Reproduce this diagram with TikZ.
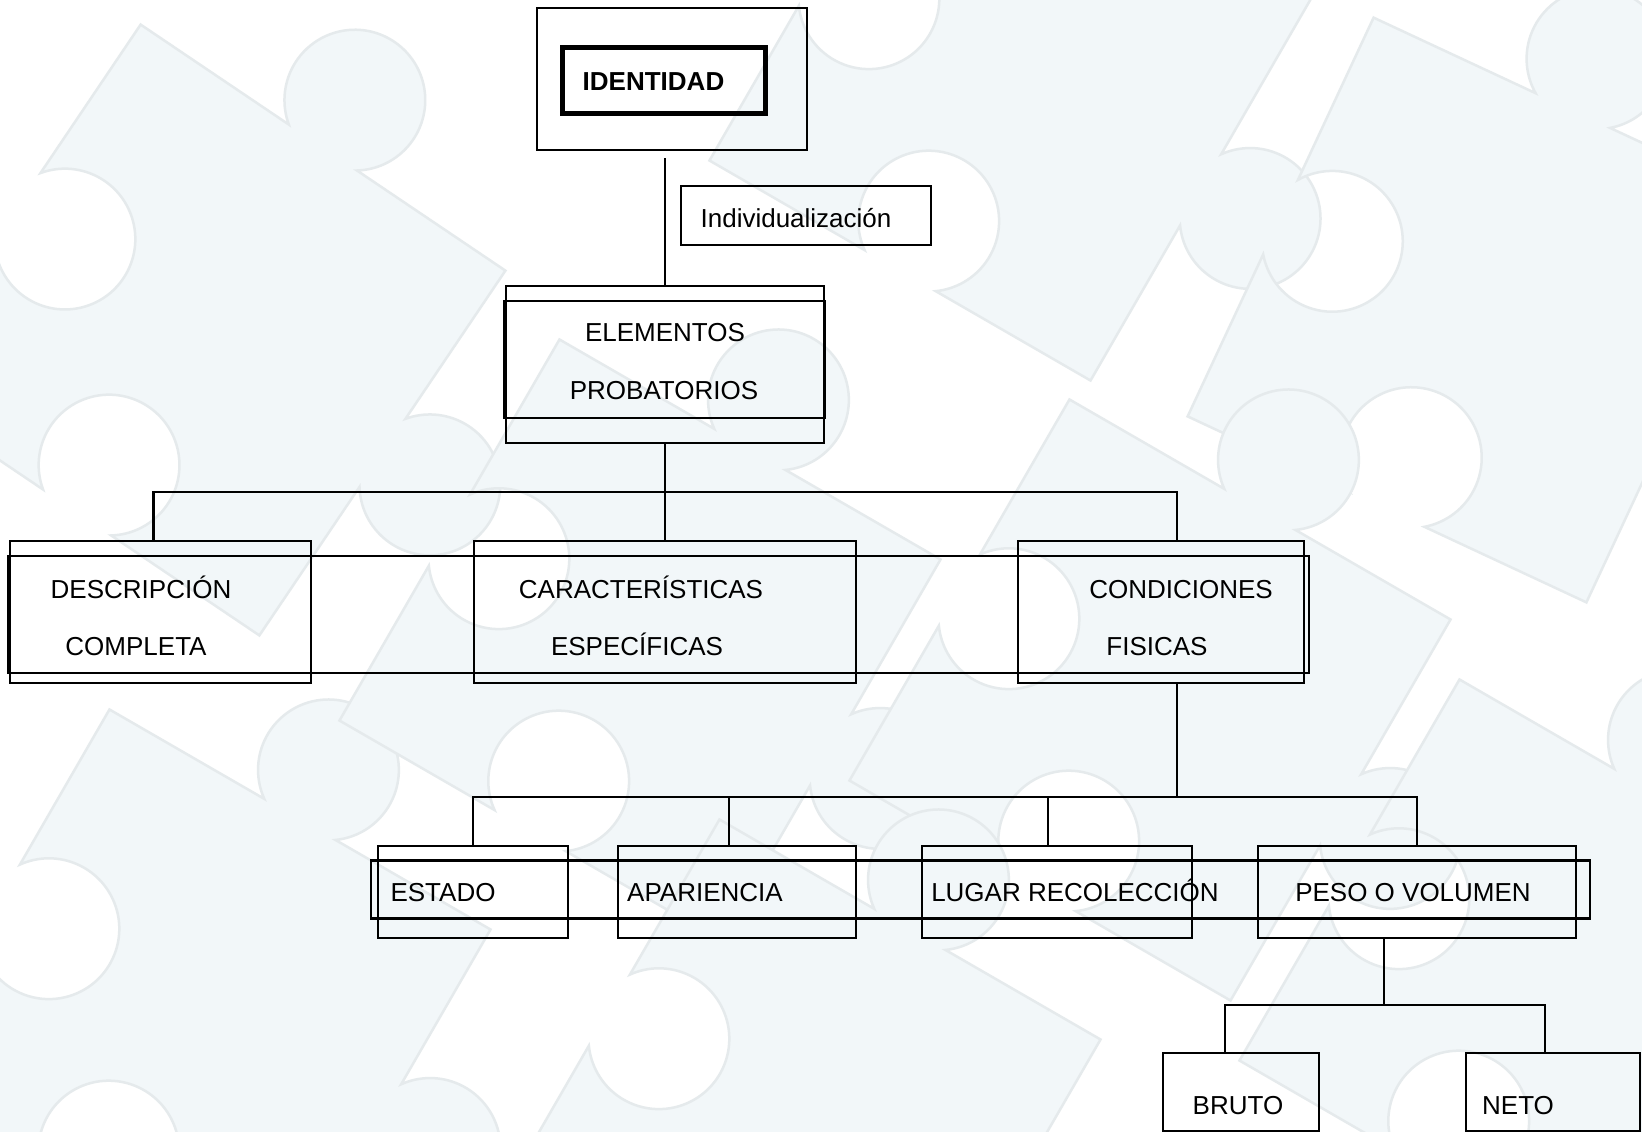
\documentclass[tikz,border=0pt]{standalone}
\usepackage{fontspec}
\setmainfont{Liberation Sans}

\definecolor{piezafondo}{HTML}{F2F7F9}
\definecolor{piezaborde}{HTML}{E5EAEC}

\tikzstyle{caja}=[draw, rectangle, line width=2.6pt, inner sep=0pt]
\tikzstyle{marco}=[draw, rectangle, line width=2.4pt, inner sep=0pt]
\tikzstyle{texto}=[anchor=base, inner sep=0pt, font=\fontsize{26}{30}\selectfont]
\tikzstyle{pieza}=[fill=piezafondo, draw=piezaborde, line width=2.5pt]

% pieza de rompecabezas del fondo: x, y, giro
\newcommand{\pieza}[3]{%
  \begin{scope}[shift={(#1,#2)}, x=440pt, y=440pt, rotate=#3]
    \filldraw[pieza] (-0.5,-0.5) -- (-0.093,-0.5)
      arc[start angle=234.3, end angle=-54.3, radius=0.16] -- (0.5,-0.5)
      -- (0.5,-0.093) arc[start angle=215.7, end angle=504.3, radius=0.16] -- (0.5,0.5)
      -- (0.093,0.5) arc[start angle=-54.3, end angle=234.3, radius=0.16] -- (-0.5,0.5)
      -- (-0.5,0.093) arc[start angle=144.3, end angle=-144.3, radius=0.16] -- cycle;
  \end{scope}}

\begin{document}
\begin{tikzpicture}[x=1pt, y=-1pt]
\useasboundingbox (0,0) rectangle (1642,1132);
\fill[white] (0,0) rectangle (1642,1132);

\begin{scope}
\clip (0,0) rectangle (1642,1132);
\pieza{200}{330}{-34}
\pieza{1010}{80}{-30}
\pieza{1480}{310}{-25}
\pieza{190}{1010}{-30}
\pieza{640}{640}{-30}
\pieza{1150}{700}{-30}
\pieza{800}{1120}{-30}
\pieza{1540}{980}{-30}
\end{scope}

\node[caja, minimum width=270pt, minimum height=142pt] (identidad) at (672,79) {};
\node[caja, line width=5pt, minimum width=203pt, minimum height=65pt] (identidadin) at (663.5,80.5) {};
\node[texto, font=\bfseries\fontsize{26}{30}\selectfont] (tidentidad) at (653.5,90.5) {IDENTIDAD};

\node[caja, minimum width=250pt, minimum height=59pt] (individual) at (806,215.5) {};
\node[texto] (tindividual) at (796,227) {Individualización};

\node[caja, minimum width=318pt, minimum height=157pt] (elementos) at (665,364.5) {};
\node[marco, minimum width=321pt, minimum height=117pt] (marcoelem) at (664.5,359.5) {};
\node[texto] (telem1) at (665,341.5) {ELEMENTOS};
\node[texto] (telem2) at (664,399) {PROBATORIOS};

\node[caja, minimum width=301pt, minimum height=142pt] (descripcion) at (160.5,612) {};
\node[caja, minimum width=382pt, minimum height=142pt] (caracteristicas) at (665,612) {};
\node[caja, minimum width=286pt, minimum height=142pt] (condiciones) at (1161,612) {};
\node[marco, minimum width=1301pt, minimum height=117pt] (marco1) at (658.5,614.5) {};
\node[texto] (tdesc1) at (141,598) {DESCRIPCIÓN};
\node[texto] (tdesc2) at (136,655.5) {COMPLETA};
\node[texto] (tcarac1) at (641,598) {CARACTERÍSTICAS};
\node[texto] (tcarac2) at (637,655.5) {ESPECÍFICAS};
\node[texto] (tcond1) at (1181,598) {CONDICIONES};
\node[texto] (tcond2) at (1157,655.5) {FISICAS};

\node[caja, minimum width=190pt, minimum height=92pt] (estado) at (473,892) {};
\node[caja, minimum width=238pt, minimum height=92pt] (apariencia) at (737,892) {};
\node[caja, minimum width=270pt, minimum height=92pt] (lugar) at (1057,892) {};
\node[caja, minimum width=318pt, minimum height=92pt] (peso) at (1417,892) {};
\node[marco, minimum width=1219pt, minimum height=58pt] (marco2) at (980.5,889.5) {};
\node[texto] (testado) at (443,901) {ESTADO};
\node[texto] (tapar) at (705,901) {APARIENCIA};
\node[texto] (tlugar) at (1075,901) {LUGAR RECOLECCIÓN};
\node[texto] (tpeso) at (1413,901) {PESO O VOLUMEN};

\node[caja, minimum width=156pt, minimum height=78pt] (bruto) at (1241,1092) {};
\node[caja, minimum width=174pt, minimum height=78pt] (neto) at (1553,1092) {};
\node[texto] (tbruto) at (1238,1114) {BRUTO};
\node[texto] (tneto) at (1518,1114) {NETO};

\begin{scope}[every path/.style={line width=2.6pt}]
       \coordinate (pieident) at ([yshift=-7pt]identidad.south);
       \draw (pieident -| elementos.north) -- (elementos.north);

       \coordinate (bus1) at (665,492);
       \draw (elementos.south) -- (bus1);
       \draw ([xshift=-7pt]descripcion.north) |- (bus1) -| ([xshift=16pt]condiciones.north);
       \draw (bus1) -- (caracteristicas.north);

       \coordinate (bus2) at (1177,797);
       \draw ([xshift=16pt]condiciones.south) -- (bus2);
       \draw (estado.north) |- (bus2) -| (peso.north);
       \draw ([xshift=-8pt]apariencia.north) |- (bus2);
       \draw ([xshift=-9pt]lugar.north) |- (bus2);

       \coordinate (bus3) at (1384,1005);
       \draw ([xshift=-33pt]peso.south) -- (bus3);
       \draw ([xshift=-16pt]bruto.north) |- (bus3) -| ([xshift=-8pt]neto.north);
\end{scope}
\end{tikzpicture}
\end{document}
